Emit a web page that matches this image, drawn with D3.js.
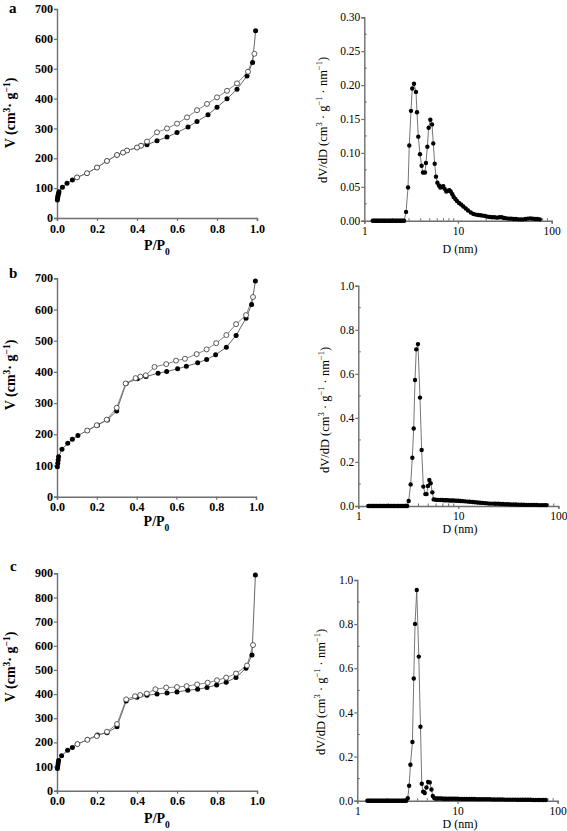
<!DOCTYPE html>
<html><head><meta charset="utf-8">
<script src="https://cdn.jsdelivr.net/npm/d3@7"></script>
<style>body{margin:0;background:#fff}svg{display:block}</style>
</head><body>
<svg id="c" width="567" height="831"></svg>
<script>
// ---------- DATA ----------
const panelLetters = ["a", "b", "c"];

// Isotherm a
const isoA_adsP = [0.002,0.003,0.004,0.006,0.008,0.01,0.027,0.05,0.077,0.1,0.15,0.2,0.25,0.3,0.33,0.35,0.4,0.42,0.45,0.5,0.55,0.6,0.655,0.7,0.755,0.8,0.85,0.9,0.95,0.978,0.993];
const isoA_adsV = [60,66,72,78,83,88,103,116,127,136,150,169,191,211,219,226,236,242,245,259,271,286,305,323,346,371,399,431,476,521,627];
const isoA_desP = [0.987,0.955,0.9,0.85,0.8,0.75,0.7,0.65,0.6,0.55,0.5,0.45,0.42,0.4,0.35,0.33,0.3,0.25,0.2,0.15,0.1];
const isoA_desV = [550,490,451,426,404,382,361,337,316,300,287,256,242,236,226,219,211,191,169,150,136];

// Isotherm b
const isoB_adsP = [0.002,0.004,0.006,0.008,0.025,0.054,0.077,0.105,0.152,0.203,0.253,0.3,0.347,0.404,0.447,0.508,0.551,0.606,0.65,0.707,0.752,0.797,0.851,0.9,0.95,0.978,0.997];
const isoB_adsV = [96,107,118,128,152,171,184,196,212,229,246,275,363,378,385,396,401,410,418,429,440,455,479,517,572,616,691];
const isoB_desP = [0.985,0.95,0.9,0.851,0.8,0.752,0.702,0.643,0.598,0.549,0.49,0.446,0.419,0.395,0.345,0.3,0.25,0.2,0.152];
const isoB_desV = [640,582,553,518,492,472,457,442,436,425,416,389,385,380,363,285,247,229,212];

// Isotherm c
const isoC_adsP = [0.002,0.004,0.006,0.008,0.023,0.053,0.077,0.102,0.152,0.202,0.25,0.3,0.346,0.4,0.45,0.5,0.55,0.6,0.654,0.703,0.75,0.798,0.846,0.895,0.945,0.975,0.992];
const isoC_adsV = [92,103,115,125,145,167,179,193,211,231,240,265,371,387,395,400,404,409,416,420,427,438,449,469,507,562,893];
const isoC_desP = [0.98,0.95,0.895,0.846,0.8,0.753,0.701,0.648,0.6,0.546,0.492,0.449,0.416,0.39,0.346,0.3,0.25,0.199,0.152,0.102];
const isoC_desV = [603,518,485,468,457,447,440,433,429,427,420,402,396,391,378,276,244,226,211,193];

// Pore size distribution a
const psdA_D = [1.23,1.27,1.31,1.35,1.39,1.43,1.48,1.53,1.58,1.63,1.68,1.74,1.80,1.86,1.92,1.98,2.05,2.12,2.19,2.26,2.34,2.42,2.50,2.58,2.66,
  2.79,2.93,3.02,3.15,3.25,3.39,3.56,3.65,3.77,3.93,4.09,4.23,4.44,4.55,4.71,4.86,5.07,5.28,5.45,5.64,5.82,6.02,6.27,6.48,6.74,6.97,7.20,7.50,7.76,8.08,8.35,8.70,8.99,9.37,9.75,
  10.25,10.8,11.4,12.1,12.8,13.7,14.6,15.5,16.4,17.4,18.4,19.5,20.7,21.9,23.2,24.6,26.1,27.7,29.3,31.1,33.0,35.0,37.1,39.3,41.7,44.2,46.8,49.6,52.6,55.8,59.1,62.7,66.4,70.4,74.6];
const psdA_V = [0,0,0,0,0,0,0,0,0,0,0,0,0,0,0,0,0,0,0,0,0,0,0,0,0,
  0.013,0.049,0.111,0.162,0.195,0.202,0.190,0.160,0.124,0.098,0.081,0.071,0.071,0.085,0.109,0.137,0.149,0.142,0.114,0.084,0.065,0.056,0.052,0.049,0.050,0.051,0.047,0.043,0.044,0.045,0.043,0.039,0.035,0.032,0.029,
  0.026,0.024,0.021,0.018,0.015,0.012,0.010,0.009,0.0085,0.008,0.0075,0.007,0.006,0.0055,0.005,0.005,0.0045,0.005,0.005,0.004,0.0035,0.003,0.003,0.0025,0.0025,0.002,0.002,0.002,0.0025,0.003,0.0035,0.003,0.0025,0.0025,0.002];

// Pore size distribution b
const psdB_D = [1.26,1.30,1.34,1.38,1.42,1.47,1.52,1.57,1.62,1.67,1.72,1.78,1.84,1.90,1.96,2.02,2.09,2.16,2.23,2.30,2.38,2.46,2.54,2.62,2.71,2.80,2.89,2.98,3.08,
  3.19,3.34,3.47,3.58,3.69,3.80,3.95,4.14,4.30,4.47,4.68,4.82,4.97,5.13,5.29,5.50,5.67,5.89,
  6.1,6.3,6.6,6.9,7.2,7.5,7.8,8.2,8.6,9.0,9.5,10.0,10.5,11.1,11.7,12.4,13.1,13.9,14.7,15.6,16.5,17.5,18.6,19.7,20.9,22.2,23.5,25.0,26.5,28.1,29.8,31.6,33.5,35.6,37.7,40.0,42.4,45.0,47.7,50.6,53.7,57.0,60.4,64.1,68.0,72.1,76.0];
const psdB_V = [0,0,0,0,0,0,0,0,0,0,0,0,0,0,0,0,0,0,0,0,0,0,0,0,0,0,0,0,0,
  0.023,0.098,0.219,0.352,0.572,0.711,0.735,0.492,0.254,0.088,0.054,0.054,0.091,0.118,0.103,0.062,0.030,0.029,
  0.028,0.028,0.027,0.027,0.026,0.026,0.026,0.025,0.025,0.025,0.024,0.024,0.023,0.022,0.021,0.020,0.019,0.018,0.017,0.016,0.015,0.014,0.013,0.012,0.011,0.011,0.010,0.010,0.009,0.009,0.008,0.008,0.007,0.007,0.007,0.006,0.006,0.006,0.005,0.005,0.005,0.005,0.005,0.004,0.004,0.004,0.004,0.004];

// Pore size distribution c
const psdC_D = [1.26,1.30,1.34,1.38,1.42,1.47,1.52,1.57,1.62,1.67,1.72,1.78,1.84,1.90,1.96,2.02,2.09,2.16,2.23,2.30,2.38,2.46,2.54,2.62,2.71,2.80,2.89,2.98,3.08,
  3.19,3.29,3.39,3.55,3.66,3.77,3.92,4.11,4.27,4.40,4.54,4.71,4.90,5.09,5.29,5.50,5.67,5.89,
  6.1,6.3,6.6,6.9,7.2,7.5,7.8,8.2,8.6,9.0,9.5,10.0,10.5,11.1,11.7,12.4,13.1,13.9,14.7,15.6,16.5,17.5,18.6,19.7,20.9,22.2,23.5,25.0,26.5,28.1,29.8,31.6,33.5,35.6,37.7,40.0,42.4,45.0,47.7,50.6,53.7,57.0,60.4,64.1,68.0,72.1,76.0];
const psdC_V = [0,0,0,0,0,0,0,0,0,0,0,0,0,0,0,0,0,0,0,0,0,0,0,0,0,0,0,0,0,
  0.011,0.068,0.163,0.266,0.554,0.801,0.955,0.653,0.335,0.077,0.041,0.035,0.060,0.085,0.083,0.051,0.021,0.011,
  0.010,0.010,0.010,0.010,0.009,0.009,0.009,0.009,0.009,0.009,0.009,0.009,0.008,0.008,0.008,0.008,0.008,0.008,0.008,0.007,0.007,0.007,0.007,0.007,0.007,0.006,0.006,0.006,0.006,0.006,0.005,0.005,0.005,0.005,0.005,0.004,0.004,0.004,0.004,0.004,0.004,0.003,0.003,0.003,0.003,0.003,0.003];

const isoXTicks = [0, 0.2, 0.4, 0.6, 0.8, 1.0];
const isoYTicksAB = [0,100,200,300,400,500,600,700];
const isoYTicksC = [0,100,200,300,400,500,600,700,800,900];
const psdXTicks = [1, 10, 100];
const psdYTicksA = [0,0.05,0.10,0.15,0.20,0.25,0.30];
const psdYTicksBC = [0,0.2,0.4,0.6,0.8,1.0];

// ---------- DRAWING ----------
const svg = d3.select("#c");
const AX = "#6e6e6e";
const LINE = "#555";
const SERIF = "'Liberation Serif','Times New Roman',serif";

function styleAxis(g) {
  g.select(".domain").attr("stroke", AX).attr("stroke-width", 1.4);
  g.selectAll(".tick line").attr("stroke", AX).attr("stroke-width", 1.2);
}

function addText(el, parts, size) {
  parts.forEach(p => {
    if (typeof p === "string") el.append("tspan").text(p);
    else {
      el.append("tspan").attr("font-size", size * 0.68)
        .attr("baseline-shift", p.sup ? "super" : "sub").text(p.sup || p.sub);
    }
  });
}

function drawIso(cfg) {
  const x = d3.scaleLinear().domain([0, 1]).range([cfg.x0, cfg.x1]);
  const y = d3.scaleLinear().domain([0, cfg.ymax]).range([cfg.yb, cfg.yt]);
  const g = svg.append("g");
  const gx = g.append("g").attr("transform", `translate(0,${cfg.yb})`)
    .call(d3.axisBottom(x).tickValues(isoXTicks).tickFormat(d3.format(".1f")).tickSizeOuter(0).tickSize(3).tickPadding(3));
  const gy = g.append("g").attr("transform", `translate(${cfg.x0},0)`)
    .call(d3.axisLeft(y).tickValues(cfg.yticks).tickFormat(d3.format("d")).tickSizeOuter(0).tickSize(3).tickPadding(1));
  [gx, gy].forEach(a => {
    styleAxis(a);
    a.selectAll("text").attr("font-family", SERIF).attr("font-size", 12).attr("font-weight", "bold").attr("fill", "#000");
  });
  gy.selectAll(".tick text").attr("dy", "0.3em");
  const line = d3.line().x(d => x(d[0])).y(d => y(d[1]));
  const ads = cfg.adsP.map((p, i) => [p, cfg.adsV[i]]);
  const des = cfg.desP.map((p, i) => [p, cfg.desV[i]]);
  g.append("path").datum(ads).attr("d", line).attr("fill", "none").attr("stroke", LINE).attr("stroke-width", 0.9);
  g.append("path").datum(des).attr("d", line).attr("fill", "none").attr("stroke", "#777").attr("stroke-width", 0.9);
  g.selectAll(".ads").data(ads).enter().append("circle")
    .attr("cx", d => x(d[0])).attr("cy", d => y(d[1])).attr("r", 2.5).attr("fill", "#000");
  g.selectAll(".des").data(des).enter().append("circle")
    .attr("cx", d => x(d[0])).attr("cy", d => y(d[1])).attr("r", 2.5).attr("fill", "#fff")
    .attr("stroke", "#333").attr("stroke-width", 0.8);
  // labels
  const yl = g.append("text").attr("transform", `translate(${cfg.ylx},${cfg.yly}) rotate(-90)`)
    .attr("text-anchor", "middle").attr("font-family", SERIF).attr("font-size", 14).attr("font-weight", "bold");
  addText(yl, ["V (cm", {sup: "3"}, "\u00b7 g", {sup: "\u22121"}, ")"], 14);
  const xl = g.append("text").attr("x", (cfg.x0 + cfg.x1) / 2).attr("y", cfg.xly)
    .attr("text-anchor", "middle").attr("font-family", SERIF).attr("font-size", 14).attr("font-weight", "bold");
  addText(xl, ["P/P", {sub: "0"}], 14);
  g.append("text").attr("x", cfg.lx).attr("y", cfg.ly).attr("font-family", SERIF)
    .attr("font-size", 15).attr("font-weight", "bold").text(cfg.letter);
}

function drawPSD(cfg) {
  const x = d3.scaleLog().domain([1, 100]).range([cfg.x0, cfg.x1]);
  const y = d3.scaleLinear().domain([0, cfg.ymax]).range([cfg.yb, cfg.yt]);
  const g = svg.append("g");
  // minor ticks (inward)
  const minorX = [];
  [1, 10].forEach(dec => { for (let k = 2; k <= 9; k++) minorX.push(dec * k); });
  g.selectAll(".mx").data(minorX).enter().append("line")
    .attr("x1", d => x(d)).attr("x2", d => x(d)).attr("y1", cfg.yb).attr("y2", cfg.yb - 2.5)
    .attr("stroke", AX).attr("stroke-width", 1);
  const minorY = cfg.yticks.slice(0, -1).map((v, i) => (v + cfg.yticks[i + 1]) / 2);
  g.selectAll(".my").data(minorY).enter().append("line")
    .attr("x1", cfg.x0).attr("x2", cfg.x0 + 2.5).attr("y1", d => y(d)).attr("y2", d => y(d))
    .attr("stroke", AX).attr("stroke-width", 1);
  const gx = g.append("g").attr("transform", `translate(0,${cfg.yb})`)
    .call(d3.axisBottom(x).tickValues(psdXTicks).tickFormat(d3.format("d")).tickSizeOuter(0).tickSize(3).tickPadding(3));
  const gy = g.append("g").attr("transform", `translate(${cfg.x0},0)`)
    .call(d3.axisLeft(y).tickValues(cfg.yticks).tickFormat(d3.format(cfg.fmt)).tickSizeOuter(0).tickSize(3).tickPadding(1));
  [gx, gy].forEach(a => {
    styleAxis(a);
    a.selectAll("text").attr("font-family", SERIF).attr("font-size", 11.5).attr("fill", "#000");
  });
  const pts = cfg.D.map((d, i) => [d, cfg.V[i]]);
  const line = d3.line().x(d => x(d[0])).y(d => y(d[1]));
  g.append("path").datum(pts).attr("d", line).attr("fill", "none").attr("stroke", "#666").attr("stroke-width", 0.9);
  g.selectAll(".p").data(pts).enter().append("circle")
    .attr("cx", d => x(d[0])).attr("cy", d => y(d[1])).attr("r", 2.2).attr("fill", "#000");
  const yl = g.append("text").attr("transform", `translate(${cfg.ylx},${cfg.yly}) rotate(-90)`)
    .attr("text-anchor", "middle").attr("font-family", SERIF).attr("font-size", 12.5);
  addText(yl, ["dV/dD (cm", {sup: "3"}, " \u00b7 g", {sup: "\u22121"}, " \u00b7 nm", {sup: "\u22121"}, ")"], 12.5);
  g.append("text").attr("x", cfg.xlx).attr("y", cfg.xly).attr("text-anchor", "middle")
    .attr("font-family", SERIF).attr("font-size", 12).text("D (nm)");
}

drawIso({letter: panelLetters[0], x0: 57, x1: 257, yb: 218, yt: 9, ymax: 700, yticks: isoYTicksAB,
  adsP: isoA_adsP, adsV: isoA_adsV, desP: isoA_desP, desV: isoA_desV, ylx: 15, yly: 113, xly: 250, lx: 9, ly: 13});
drawIso({letter: panelLetters[1], x0: 57, x1: 256, yb: 496.7, yt: 278.3, ymax: 700, yticks: isoYTicksAB,
  adsP: isoB_adsP, adsV: isoB_adsV, desP: isoB_desP, desV: isoB_desV, ylx: 15, yly: 375, xly: 526, lx: 9, ly: 278});
drawIso({letter: panelLetters[2], x0: 57, x1: 257, yb: 790.7, yt: 573.3, ymax: 900, yticks: isoYTicksC,
  adsP: isoC_adsP, adsV: isoC_adsV, desP: isoC_desP, desV: isoC_desV, ylx: 15, yly: 667, xly: 823, lx: 10, ly: 571});

drawPSD({x0: 364.3, x1: 551.7, yb: 220.7, yt: 17.3, ymax: 0.30, yticks: psdYTicksA, fmt: ".2f",
  D: psdA_D, V: psdA_V, ylx: 327, yly: 120, xlx: 460, xly: 253});
drawPSD({x0: 358.3, x1: 558.3, yb: 506, yt: 285.7, ymax: 1.0, yticks: psdYTicksBC, fmt: ".1f",
  D: psdB_D, V: psdB_V, ylx: 329, yly: 410, xlx: 460, xly: 533});
drawPSD({x0: 357.3, x1: 557.7, yb: 800.7, yt: 580, ymax: 1.0, yticks: psdYTicksBC, fmt: ".1f",
  D: psdC_D, V: psdC_V, ylx: 325, yly: 692, xlx: 460, xly: 828});
</script>
</body></html>
